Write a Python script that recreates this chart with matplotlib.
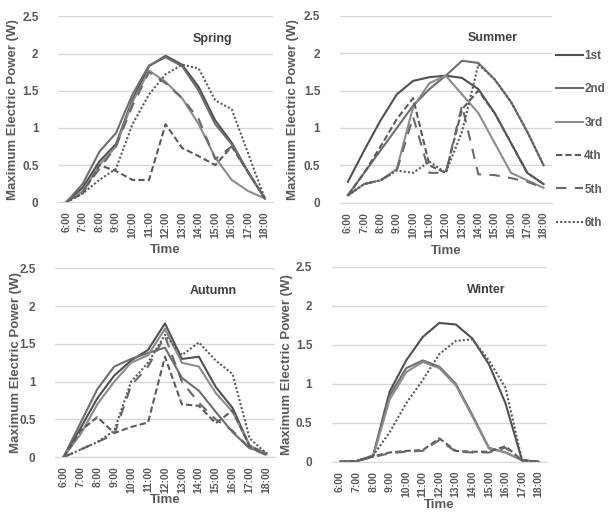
import numpy as np
import matplotlib
matplotlib.use("Agg")
import matplotlib.pyplot as plt

plt.rcParams["font.family"] = ["Liberation Sans", "DejaVu Sans"]

times = ["6:00", "7:00", "8:00", "9:00", "10:00", "11:00", "12:00",
         "13:00", "14:00", "15:00", "16:00", "17:00", "18:00"]
labels = ["1st", "2nd", "3rd", "4th", "5th", "6th"]

# Spring
spring_1 = [0, 0.20, 0.55, 0.78, 1.38, 1.83, 1.97, 1.85, 1.55, 1.10, 0.80, 0.40, 0.05]
spring_2 = [0, 0.25, 0.68, 0.93, 1.45, 1.84, 1.95, 1.83, 1.50, 1.05, 0.78, 0.40, 0.05]
spring_3 = [0, 0.15, 0.50, 0.75, 1.35, 1.77, 1.62, 1.40, 1.05, 0.60, 0.30, 0.15, 0.05]
spring_4 = [0, 0.12, 0.50, 0.42, 0.30, 0.30, 1.05, 0.73, 0.62, 0.50, 0.75, 0.40, 0.05]
spring_5 = [0, 0.15, 0.45, 0.75, 1.30, 1.75, 1.60, 1.40, 1.12, 0.58, 0.75, 0.40, 0.05]
spring_6 = [0, 0.12, 0.30, 0.45, 1.05, 1.45, 1.72, 1.85, 1.80, 1.37, 1.25, 0.65, 0.05]

# Summer
summer_1 = [0.28, 0.70, 1.10, 1.45, 1.63, 1.68, 1.70, 1.67, 1.52, 1.20, 0.80, 0.40, 0.25]
summer_2 = [0.10, 0.40, 0.70, 1.00, 1.30, 1.52, 1.70, 1.90, 1.87, 1.65, 1.35, 0.95, 0.50]
summer_3 = [0.10, 0.25, 0.30, 0.45, 1.28, 1.60, 1.70, 1.45, 1.20, 0.80, 0.40, 0.30, 0.20]
summer_4 = [0.10, 0.40, 0.75, 1.12, 1.40, 0.50, 0.40, 1.25, 1.50, 1.20, 0.80, 0.40, 0.25]
summer_5 = [0.10, 0.25, 0.30, 0.43, 1.15, 0.40, 0.40, 1.30, 0.38, 0.37, 0.33, 0.28, 0.20]
summer_6 = [0.10, 0.25, 0.30, 0.43, 0.40, 0.55, 0.40, 0.95, 1.85, 1.65, 1.35, 0.95, 0.50]

# Autumn
autumn_1 = [0, 0.38, 0.78, 1.08, 1.28, 1.42, 1.77, 1.30, 1.33, 0.93, 0.65, 0.15, 0.05]
autumn_2 = [0, 0.45, 0.90, 1.20, 1.30, 1.38, 1.45, 1.05, 0.88, 0.60, 0.33, 0.12, 0.05]
autumn_3 = [0, 0.30, 0.70, 1.00, 1.25, 1.35, 1.70, 1.25, 1.20, 0.85, 0.60, 0.15, 0.05]
autumn_4 = [0, 0.35, 0.53, 0.32, 0.40, 0.46, 1.33, 0.70, 0.68, 0.45, 0.62, 0.15, 0.03]
autumn_5 = [0, 0.10, 0.20, 0.30, 0.95, 1.20, 1.60, 1.00, 0.72, 0.50, 0.35, 0.12, 0.03]
autumn_6 = [0, 0.10, 0.20, 0.35, 1.00, 1.25, 1.62, 1.35, 1.52, 1.28, 1.10, 0.25, 0.05]

# Winter
winter_1 = [0, 0.01, 0.08, 0.90, 1.30, 1.60, 1.78, 1.76, 1.58, 1.25, 0.75, 0.02, 0]
winter_2 = [0, 0.01, 0.07, 0.85, 1.20, 1.30, 1.22, 1.00, 0.60, 0.18, 0.12, 0.02, 0]
winter_3 = [0, 0.01, 0.07, 0.80, 1.15, 1.28, 1.20, 0.98, 0.58, 0.17, 0.12, 0.02, 0]
winter_4 = [0, 0.01, 0.07, 0.12, 0.14, 0.15, 0.30, 0.14, 0.13, 0.13, 0.20, 0.02, 0]
winter_5 = [0, 0.01, 0.06, 0.11, 0.13, 0.14, 0.28, 0.13, 0.12, 0.12, 0.18, 0.02, 0]
winter_6 = [0, 0.01, 0.08, 0.38, 0.75, 1.05, 1.38, 1.55, 1.57, 1.30, 0.95, 0.02, 0]

seasons = [
    ("Spring", [spring_1, spring_2, spring_3, spring_4, spring_5, spring_6]),
    ("Summer", [summer_1, summer_2, summer_3, summer_4, summer_5, summer_6]),
    ("Autumn", [autumn_1, autumn_2, autumn_3, autumn_4, autumn_5, autumn_6]),
    ("Winter", [winter_1, winter_2, winter_3, winter_4, winter_5, winter_6]),
]

colors = ["#505050", "#6e6e6e", "#8c8c8c", "#5a5a5a", "#6a6a6a", "#5a5a5a"]
dashes = [None, None, None, (3, 1.5), (5, 4), (1, 1)]

# axes boxes (left, bottom, width, height) in figure fractions
boxes = [
    [0.095, 0.605, 0.352, 0.363],
    [0.556, 0.604, 0.347, 0.365],
    [0.090, 0.107, 0.360, 0.369],
    [0.543, 0.098, 0.352, 0.381],
]
ylab_x = [-0.18, -0.193, -0.15, -0.18]
xlab_pad = [4.5, 4.5, 1, 1]

text_gray = "#595959"
fig = plt.figure(figsize=(6.11, 5.12), dpi=100)

x = np.arange(len(times))
handles = []
for (name, series), box, lx, xp in zip(seasons, boxes, ylab_x, xlab_pad):
    ax = fig.add_axes(box)
    for i, vals in enumerate(series):
        line, = ax.plot(x, vals, color=colors[i], lw=1.5, label=labels[i])
        if dashes[i] is not None:
            line.set_dashes(dashes[i])
        if name == "Summer":
            handles.append(line)
    ax.set_xlim(-0.5, len(times) - 0.5)
    ax.set_ylim(0, 2.5)
    ax.set_yticks([0, 0.5, 1, 1.5, 2, 2.5])
    ax.set_yticklabels(["0", "0.5", "1", "1.5", "2", "2.5"])
    ax.set_xticks(x)
    ax.set_xticklabels(times, rotation=90)
    ax.grid(axis="y", color="#d9d9d9", lw=1)
    ax.set_axisbelow(True)
    for s in ["top", "right", "left"]:
        ax.spines[s].set_visible(False)
    ax.spines["bottom"].set_color("#d9d9d9")
    ax.tick_params(length=0, colors=text_gray, labelsize=7.5)
    for lab in ax.get_xticklabels() + ax.get_yticklabels():
        lab.set_fontweight("bold")
    ax.tick_params(axis="y", labelsize=8.5, pad=14)
    ax.tick_params(axis="x", pad=6.5)
    ax.set_ylabel("Maximum Electric Power (W)", fontsize=9.5, fontweight="bold",
                  color=text_gray)
    ax.yaxis.set_label_coords(lx, 0.5)
    ax.set_xlabel("Time", fontsize=9.5, fontweight="bold", color=text_gray, labelpad=xp)
    ax.text(0.72, 0.88, name, transform=ax.transAxes, ha="center", va="center",
            fontsize=9, fontweight="bold", color="#404040")

leg = fig.legend(handles, labels, loc="upper left", bbox_to_anchor=(0.91, 0.903),
                 frameon=False, handlelength=2.3, handletextpad=0.1,
                 borderpad=0, borderaxespad=0,
                 labelspacing=1.82, prop={"size": 8.5, "weight": "bold"})
for t in leg.get_texts():
    t.set_color(text_gray)

fig.savefig("out.png", dpi=100)
